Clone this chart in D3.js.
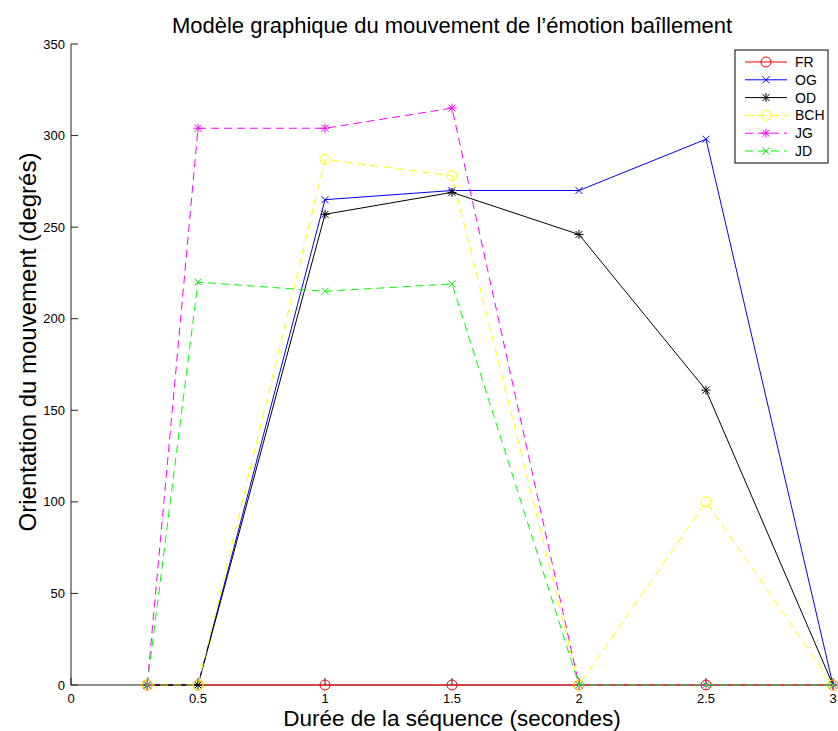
<!DOCTYPE html>
<html>
<head>
<meta charset="utf-8">
<title>Baillement</title>
<style>
  body { margin: 0; background: #fff; }
  text { font-family: "Liberation Sans", Arial, sans-serif; }
</style>
<script src="https://cdn.jsdelivr.net/npm/d3@7"></script>
</head>
<body>
<div id="chart"></div>
<script>
// ---- data ----
const times = [0.3, 0.5, 1, 1.5, 2, 2.5, 3];
const FR  = [0, 0, 0, 0, 0, 0, 0];
const OG  = [0, 0, 265, 270, 270, 298, 0];
const OD  = [0, 0, 257, 269, 246, 161, 0];
const BCH = [0, 0, 287, 278, 0, 100, 0];
const JG  = [0, 304, 304, 315, 0, 0, 0];
const JD  = [0, 220, 215, 219, 0, 0, 0];
const xTicks = [0, 0.5, 1, 1.5, 2, 2.5, 3];
const yTicks = [0, 50, 100, 150, 200, 250, 300, 350];

const series = [
  {name: "FR",  values: FR,  color: "#ff0000", dash: null,  marker: "circle"},
  {name: "OG",  values: OG,  color: "#0000ff", dash: null,  marker: "x"},
  {name: "OD",  values: OD,  color: "#000000", dash: null,  marker: "star"},
  {name: "BCH", values: BCH, color: "#ffff00", dash: "8,5", marker: "circle"},
  {name: "JG",  values: JG,  color: "#ff00ff", dash: "8,5", marker: "star"},
  {name: "JD",  values: JD,  color: "#00ff00", dash: "8,5", marker: "x"}
];

const width = 838, height = 731;
const margin = {top: 44, right: 5, bottom: 46, left: 71};

const svg = d3.select("#chart").append("svg")
  .attr("width", width)
  .attr("height", height);

const x = d3.scaleLinear().domain([0, 3]).range([margin.left, width - margin.right]);
const y = d3.scaleLinear().domain([0, 350]).range([height - margin.bottom, margin.top]);

// markers
function drawMarker(g, type, color) {
  if (type === "circle") {
    g.append("circle").attr("r", 5).attr("fill", "none")
      .attr("stroke", color).attr("stroke-width", 1);
  } else if (type === "x") {
    g.append("path").attr("d", "M-3.5,-3.5L3.5,3.5M-3.5,3.5L3.5,-3.5")
      .attr("stroke", color).attr("stroke-width", 1).attr("fill", "none");
  } else {
    g.append("path").attr("d", "M-3.5,-3.5L3.5,3.5M-3.5,3.5L3.5,-3.5M0,-4.5L0,4.5M-4.5,0L4.5,0")
      .attr("stroke", color).attr("stroke-width", 1).attr("fill", "none");
  }
}

// ---- axes (left & bottom only, ticks inside) ----
const tickLen = 7;
const axisG = svg.append("g").attr("stroke", "#222").attr("stroke-width", 1);
axisG.append("line")
  .attr("x1", x(0)).attr("x2", x(0))
  .attr("y1", y(0)).attr("y2", y(350));
axisG.append("line")
  .attr("x1", x(0)).attr("x2", x(3))
  .attr("y1", y(0)).attr("y2", y(0));

yTicks.forEach(t => {
  axisG.append("line")
    .attr("x1", x(0)).attr("x2", x(0) + tickLen)
    .attr("y1", y(t)).attr("y2", y(t));
  svg.append("text")
    .attr("x", x(0) - 6).attr("y", y(t) + 4.5)
    .attr("text-anchor", "end").attr("font-size", 13)
    .text(d3.format("d")(t));
});
xTicks.forEach(t => {
  axisG.append("line")
    .attr("x1", x(t)).attr("x2", x(t))
    .attr("y1", y(0)).attr("y2", y(0) - tickLen);
  svg.append("text")
    .attr("x", x(t)).attr("y", y(0) + 18)
    .attr("text-anchor", "middle").attr("font-size", 13)
    .text(t);
});

// ---- lines ----
const line = d3.line()
  .x((d, i) => x(times[i]))
  .y(d => y(d));

series.forEach(s => {
  svg.append("path")
    .datum(s.values)
    .attr("d", line)
    .attr("fill", "none")
    .attr("stroke", s.color)
    .attr("stroke-width", 1)
    .attr("stroke-dasharray", s.dash);
  s.values.forEach((v, i) => {
    const g = svg.append("g").attr("transform", `translate(${x(times[i])},${y(v)})`);
    drawMarker(g, s.marker, s.color);
  });
});

// ---- titles ----
svg.append("text")
  .attr("x", (x(0) + x(3)) / 2).attr("y", 33)
  .attr("text-anchor", "middle").attr("font-size", 22)
  .text("Modèle graphique du mouvement de l’émotion baîllement");

svg.append("text")
  .attr("x", (x(0) + x(3)) / 2).attr("y", 726)
  .attr("text-anchor", "middle").attr("font-size", 22.5)
  .text("Durée de la séquence (secondes)");

svg.append("text")
  .attr("transform", `translate(36,342) rotate(-90)`)
  .attr("text-anchor", "middle").attr("font-size", 24)
  .text("Orientation du mouvement (degrés)");

// ---- legend ----
const leg = svg.append("g").attr("transform", "translate(735,50)");
leg.append("rect")
  .attr("width", 93).attr("height", 113)
  .attr("fill", "#fff").attr("stroke", "#000").attr("stroke-width", 1);
series.forEach((s, i) => {
  const ly = 12 + i * 17.8;
  leg.append("line")
    .attr("x1", 10).attr("x2", 52).attr("y1", ly).attr("y2", ly)
    .attr("stroke", s.color).attr("stroke-width", 1)
    .attr("stroke-dasharray", s.dash);
  const g = leg.append("g").attr("transform", `translate(31,${ly})`);
  drawMarker(g, s.marker, s.color);
  leg.append("text")
    .attr("x", 60).attr("y", ly + 5)
    .attr("font-size", 14)
    .text(s.name);
});
</script>
</body>
</html>
